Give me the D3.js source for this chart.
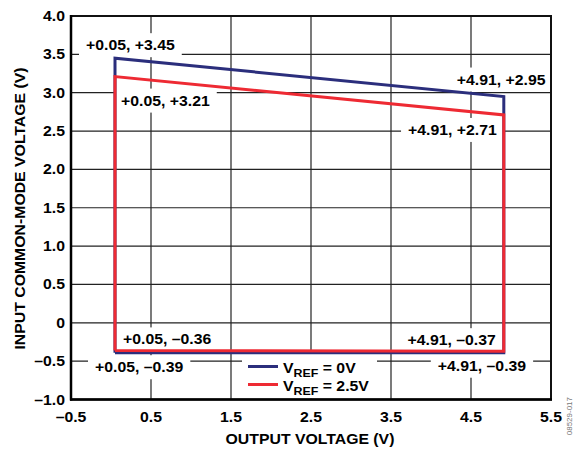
<!DOCTYPE html>
<html>
<head>
<meta charset="utf-8">
<script src="https://cdn.jsdelivr.net/npm/d3@7/dist/d3.min.js"></script>
<style>
  html, body { margin: 0; padding: 0; background: #fff; }
  svg { display: block; }
</style>
</head>
<body>
<svg id="chart" width="574" height="449"></svg>
<script>
// ---------- DATA ----------
const seriesNames = ["V_REF = 0V", "V_REF = 2.5V"];
const vref0X = [0.05, 0.05, 4.91, 4.91, 0.05];
const vref0Y = [-0.39, 3.45, 2.95, -0.39, -0.39];
const vref25X = [0.05, 0.05, 4.91, 4.91, 0.05];
const vref25Y = [-0.36, 3.21, 2.71, -0.37, -0.36];
const xTicks = [-0.5, 0.5, 1.5, 2.5, 3.5, 4.5, 5.5];
const yTicks = [-1.0, -0.5, 0, 0.5, 1.0, 1.5, 2.0, 2.5, 3.0, 3.5, 4.0];
// annotated corner points [x, y]
const annotPoints = [
  [0.05, 3.45], [0.05, 3.21], [4.91, 2.95], [4.91, 2.71],
  [0.05, -0.36], [0.05, -0.39], [4.91, -0.37], [4.91, -0.39]
];

// ---------- STYLE / LAYOUT ----------
const FONT = "'Liberation Sans', Arial, Helvetica, sans-serif";
const SX = 1.13; // horizontal stretch of the reference typeface
const colors = ["#2b2e7c", "#ee2a33"];
// label offsets relative to annotated point (pixel), anchor
const annotStyle = [
  {dx: -29, dy: -13, anchor: "start"},
  {dx: 6,   dy: 24,  anchor: "start"},
  {dx: -47, dy: -17, anchor: "start"},
  {dx: -7,  dy: 15,  anchor: "end"},
  {dx: 8,   dy: -11, anchor: "start"},
  {dx: -20, dy: 14.5,anchor: "start"},
  {dx: -8,  dy: -11, anchor: "end"},
  {dx: -66, dy: 13,  anchor: "start"}
];

const svg = d3.select("#chart");
const L = 71, R = 551, T = 16, B = 399.5;
const x = d3.scaleLinear().domain([-0.5, 5.5]).range([L, R]);
const y = d3.scaleLinear().domain([-1, 4]).range([B, T]);

function fmt(v) {
  if (v === 0) return "0";
  const s = Math.abs(v).toFixed(1);
  return (v < 0 ? "\u2013" : "") + s;
}
function sgn(v) {
  return (v < 0 ? "\u2013" : "+") + Math.abs(v).toFixed(2);
}

function stext(parent, px, py, str, opts = {}) {
  const size = opts.size || 14;
  const rot = opts.rot || 0;
  const t = parent.append("text")
    .attr("transform", `translate(${px},${py}) rotate(${rot}) scale(${opts.sx || SX},1)`)
    .attr("text-anchor", opts.anchor || "start")
    .attr("font-family", FONT)
    .attr("font-weight", opts.weight || "bold")
    .attr("font-size", size)
    .attr("fill", opts.fill || "#000")
    .text(str);
  return t;
}

// ---------- GRID ----------
const grid = svg.append("g");
grid.selectAll("line.h").data(yTicks.filter(v => v > -1 && v < 4)).join("line")
  .attr("x1", L).attr("x2", R)
  .attr("y1", d => y(d)).attr("y2", d => y(d))
  .attr("stroke", "#222").attr("stroke-width", 1.2);
grid.selectAll("line.v").data(xTicks.filter(v => v > -0.5 && v < 5.5)).join("line")
  .attr("y1", T).attr("y2", B)
  .attr("x1", d => x(d)).attr("x2", d => x(d))
  .attr("stroke", "#222").attr("stroke-width", 1.2);

// ---------- WHITE BOXES FOR LABELS ----------
const boxLayer = svg.append("g");
const lineLayer = svg.append("g");
const textLayer = svg.append("g");

// legend box
boxLayer.append("rect")
  .attr("x", 242).attr("y", 354).attr("width", 135).attr("height", B - 354 - 1)
  .attr("fill", "#fff");

// ---------- SERIES ----------
const line = d3.line().x(d => x(d[0])).y(d => y(d[1]));
const series = [
  d3.zip(vref0X, vref0Y),
  d3.zip(vref25X, vref25Y)
];
series.forEach((pts, i) => {
  lineLayer.append("path")
    .datum(pts)
    .attr("d", line)
    .attr("fill", "none")
    .attr("stroke", colors[i])
    .attr("stroke-width", 3)
    .attr("stroke-linejoin", "miter");
});

// ---------- ANNOTATIONS ----------
annotPoints.forEach((p, i) => {
  const st = annotStyle[i];
  const px = x(p[0]) + st.dx, py = y(p[1]) + st.dy + 5;
  const t = stext(textLayer, px, py, sgn(p[0]) + ", " + sgn(p[1]), {anchor: st.anchor});
  const w = t.node().getComputedTextLength() * SX;
  const left = st.anchor === "start" ? px : px - w;
  boxLayer.append("rect")
    .attr("x", left - 7).attr("y", py - 5 - 12)
    .attr("width", w + 14).attr("height", 24)
    .attr("fill", "#fff");
});

// ---------- AXES FRAME ----------
svg.append("rect")
  .attr("x", L).attr("y", T).attr("width", R - L).attr("height", B - T)
  .attr("fill", "none").attr("stroke", "#111").attr("stroke-width", 2);
svg.append("line").attr("x1", L).attr("x2", L).attr("y1", T - 1).attr("y2", B + 1)
  .attr("stroke", "#000").attr("stroke-width", 2.5);
svg.append("line").attr("x1", L - 1).attr("x2", R + 1).attr("y1", B).attr("y2", B)
  .attr("stroke", "#000").attr("stroke-width", 2.5);

// ---------- TICK LABELS ----------
const tl = svg.append("g");
yTicks.forEach(v => stext(tl, 65, y(v) + 5, fmt(v), {anchor: "end"}));
xTicks.forEach(v => stext(tl, x(v), 421.5, fmt(v), {anchor: "middle"}));

// ---------- AXIS TITLES ----------
stext(svg, (L + R) / 2 - 1, 444, "OUTPUT VOLTAGE (V)", {anchor: "middle"});
stext(svg, 25, 208.5, "INPUT COMMON-MODE VOLTAGE (V)", {anchor: "middle", rot: -90});

// ---------- LEGEND ----------
const lg = svg.append("g");
const legY = [366.5, 384.5];
const legTail = [" = 0V", " = 2.5V"];
seriesNames.forEach((n, i) => {
  lg.append("line")
    .attr("x1", 248).attr("x2", 278)
    .attr("y1", legY[i]).attr("y2", legY[i])
    .attr("stroke", colors[i]).attr("stroke-width", 3);
  const t = lg.append("text")
    .attr("transform", `translate(283,${legY[i] + 6}) scale(${SX},1)`)
    .attr("font-family", FONT).attr("font-weight", "bold").attr("font-size", 14);
  t.append("tspan").text("V");
  t.append("tspan").attr("font-size", 11).attr("dy", 4).text("REF");
  t.append("tspan").attr("dy", -4).text(legTail[i]);
});

// ---------- FIGURE ID ----------
stext(svg, 572, 397, "08529-017", {anchor: "end", rot: -90, size: 8, weight: "normal", fill: "#777", sx: 1});
</script>
</body>
</html>
